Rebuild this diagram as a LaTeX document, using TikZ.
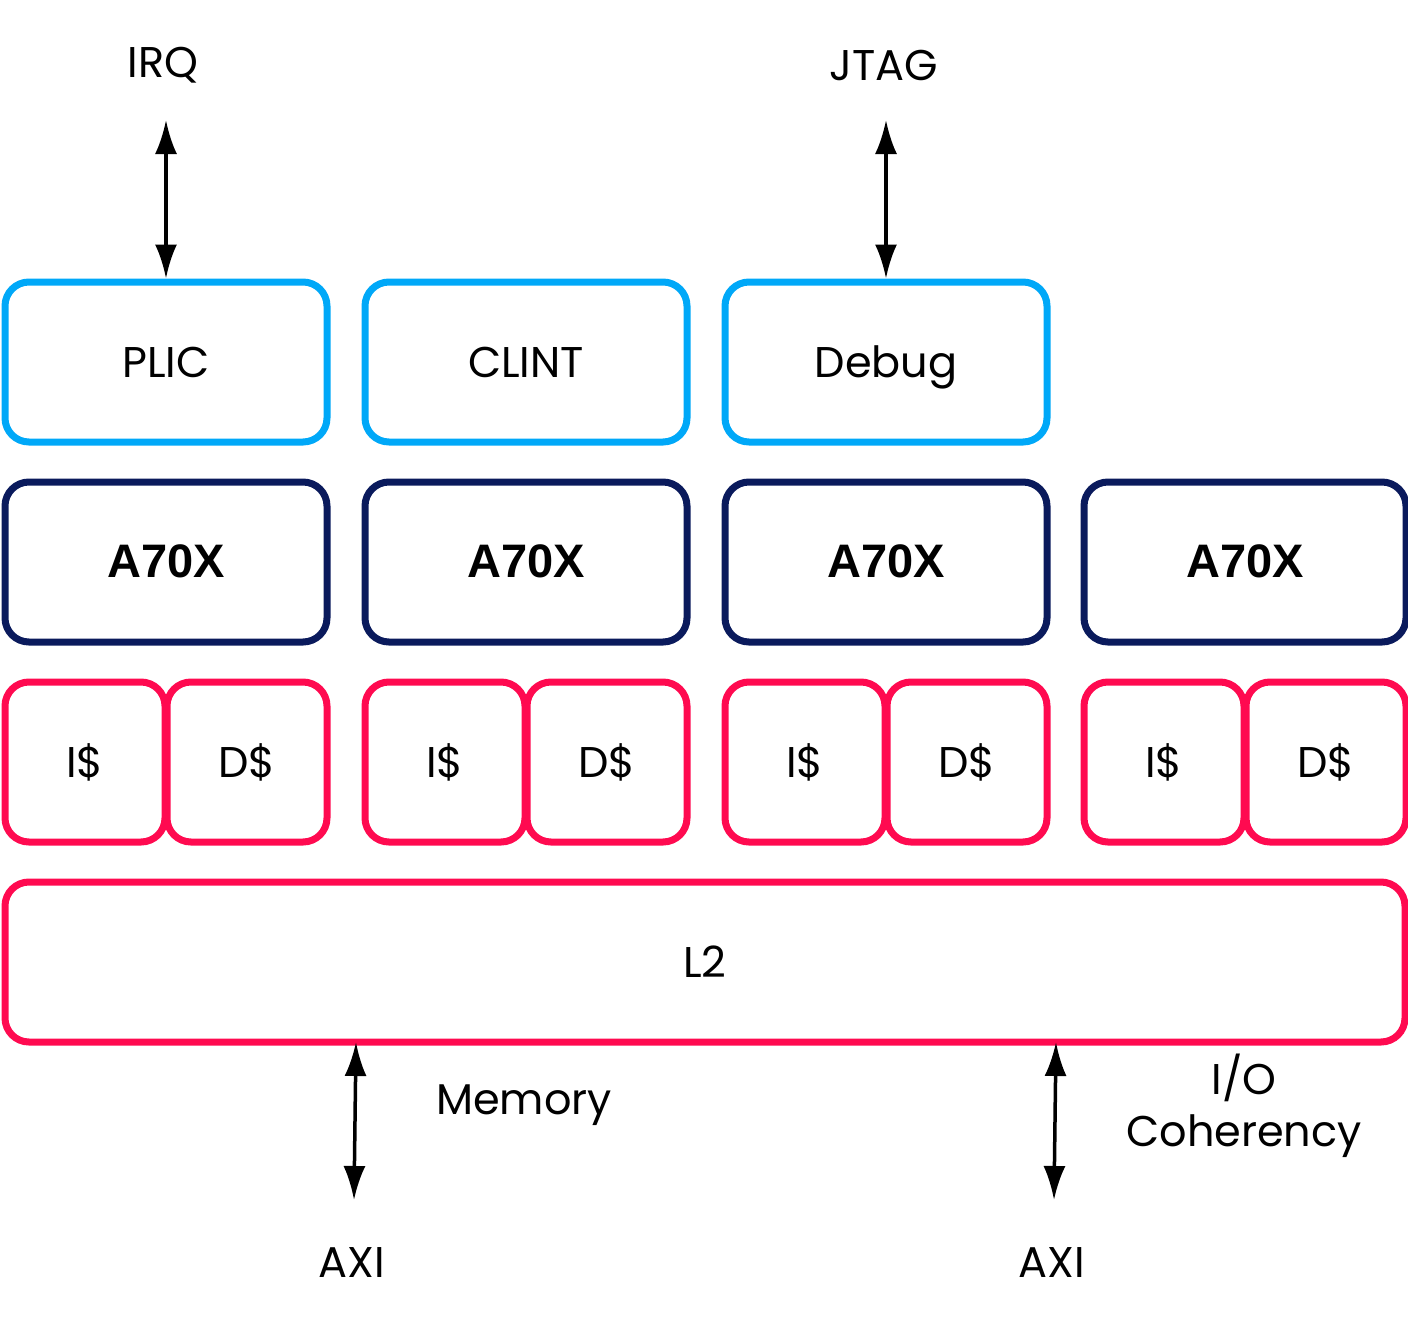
\documentclass[tikz,border=0pt]{standalone}
\usepackage{fontspec}
\setmainfont{Poppins}
\newfontfamily\boldf{Liberation Sans}
\definecolor{lblue}{HTML}{00A8F8}
\definecolor{navy}{HTML}{0A1A5C}
\definecolor{pinkr}{HTML}{FF0A50}
\usetikzlibrary{arrows.meta}
\begin{document}
\begin{tikzpicture}[x=1pt,y=-1pt,
  box/.style={draw,line width=7pt,rounded corners=24pt,inner sep=0pt,text height=31pt,text depth=0pt,font=\fontsize{43}{50}\selectfont},
  lbl/.style={font=\fontsize{43}{52}\selectfont,align=center},
  arr/.style={line width=3.5pt,{Latex[length=34pt,width=22pt]}-{Latex[length=34pt,width=22pt]}}]
\useasboundingbox (0,0) rectangle (1408,1320);
\foreach \n/\x/\t in {plic/166/PLIC,clint/526/CLINT,debug/886/Debug}
  \node[box,lblue,text=black,minimum width=322pt,minimum height=160pt] (\n) at (\x,362) {\t};
\foreach \i/\x in {1/166,2/526,3/886,4/1245}{
  \node[box,navy,text=black,minimum width=322pt,minimum height=160pt,font=\boldf\bfseries\fontsize{47}{54}\selectfont] (a\i) at (\x,562) {A70X};
  \node[box,pinkr,text=black,minimum width=160pt,minimum height=160pt] (i\i) at (\x-81,762) {I\$};
  \node[box,pinkr,text=black,minimum width=160pt,minimum height=160pt] (d\i) at (\x+81,762) {D\$};
}
\node[box,pinkr,text=black,minimum width=1400pt,minimum height=160pt] (l2) at (705,962) {L2};
\node[lbl] (irq) at (163,65) {IRQ};
\node[lbl] (jtag) at (884,65) {JTAG};
\coordinate (irqa) at (166,120);
\coordinate (jtaga) at (886,120);
\draw[arr] (irqa) -- (plic.north);
\draw[arr] (jtaga) -- (debug.north);
\coordinate (m1) at (356,1042);
\coordinate (m2) at (354,1200);
\coordinate (o1) at (1056,1042);
\coordinate (o2) at (1054,1200);
\draw[arr] (m1) -- (m2);
\draw[arr] (o1) -- (o2);
\node[lbl] (axi1) at (352,1262) {AXI};
\node[lbl] (axi2) at (1052,1262) {AXI};
\node[lbl] (mem) at (524,1105) {Memory};
\node[lbl] (io) at (1244,1106) {I/O\\Coherency};
\end{tikzpicture}
\end{document}
